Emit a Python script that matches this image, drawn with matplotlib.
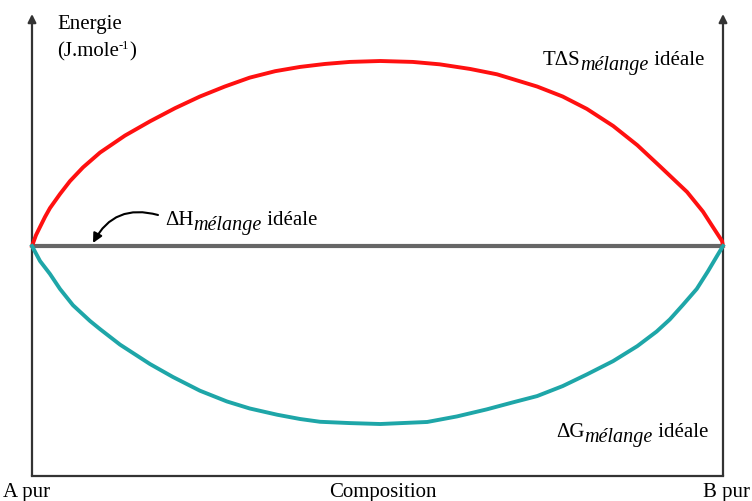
# Ideal mixing: T.dS, dH and dG of mixing versus composition
import matplotlib.pyplot as plt

plt.rcParams['font.family'] = ['Liberation Serif', 'DejaVu Serif']

# composition (0 = A pur, 1 = B pur) and energies (arbitrary units)
x_tds = [0.0, 0.0058, 0.0116, 0.0188, 0.026, 0.0405, 0.055, 0.0738, 0.0984, 0.1346,
         0.1708, 0.207, 0.243, 0.279, 0.315, 0.352, 0.388, 0.424, 0.460, 0.504,
         0.551, 0.590, 0.634, 0.673, 0.731, 0.768, 0.803, 0.841, 0.876, 0.909,
         0.948, 0.971, 0.985, 0.9986, 1.0]
tds = [0.0, 0.059, 0.103, 0.157, 0.205, 0.281, 0.351, 0.425, 0.505, 0.597,
       0.674, 0.745, 0.808, 0.862, 0.910, 0.945, 0.968, 0.984, 0.995, 1.0,
       0.995, 0.982, 0.957, 0.928, 0.862, 0.808, 0.741, 0.649, 0.545, 0.430,
       0.292, 0.186, 0.105, 0.027, 0.0]

x_dg = [0.0, 0.0116, 0.026, 0.0405, 0.0593, 0.0839, 0.0984, 0.1274, 0.1708, 0.204,
        0.243, 0.282, 0.315, 0.355, 0.388, 0.417, 0.460, 0.504, 0.572, 0.615,
        0.658, 0.696, 0.731, 0.768, 0.803, 0.841, 0.876, 0.904, 0.923, 0.942,
        0.962, 0.978, 0.991, 1.0]
dg = [0.0, -0.081, -0.151, -0.232, -0.320, -0.405, -0.449, -0.533, -0.638, -0.708,
      -0.782, -0.840, -0.878, -0.912, -0.935, -0.950, -0.957, -0.962, -0.951, -0.921,
      -0.883, -0.845, -0.811, -0.757, -0.694, -0.622, -0.541, -0.462, -0.397, -0.318,
      -0.232, -0.138, -0.056, 0.0]

x_dh = [0.0, 1.0]
dh = [0.0, 0.0]

W, H = 752, 502
fig = plt.figure(figsize=(W / 100, H / 100), dpi=100)
ax = fig.add_axes([32 / W, 1 - 477 / H, (723 - 32) / W, (477 - 15) / H])
ax.set_xlim(0, 1)
ax.set_ylim(-1.243, 1.254)
ax.axis('off')

axis_col = '#333333'
# frame: two vertical axes with arrows, bottom composition axis
for xv in (0, 1):
    ax.annotate('', xy=(xv, 1.254), xytext=(xv, -1.243),
                arrowprops=dict(arrowstyle='-|>', color=axis_col, lw=1.6,
                                mutation_scale=12, shrinkA=0, shrinkB=0),
                annotation_clip=False)
ax.plot([0, 1], [-1.243, -1.243], color=axis_col, lw=1.6, clip_on=False)

ax.plot(x_dh, dh, color='#666666', lw=3.0, solid_capstyle='butt', zorder=2)
ax.plot(x_tds, tds, color='#ff1010', lw=2.8, zorder=3, clip_on=False)
ax.plot(x_dg, dg, color='#1ea6a8', lw=2.8, zorder=3, clip_on=False)

renderer = fig.canvas.get_renderer()


def pieces(px, py, parts, ha='left'):
    """Draw a label made of runs (text, size, style, lift in px) one after another."""
    widths = []
    for s, size, style, dy in parts:
        t = fig.text(0, 0, s, fontsize=size, style=style)
        widths.append(t.get_window_extent(renderer).width)
        t.remove()
    x = px - sum(widths) if ha == 'right' else px
    for (s, size, style, dy), w in zip(parts, widths):
        fig.text(x / W, 1 - (py - dy) / H, s, fontsize=size, style=style,
                 va='baseline')
        x += w


def ftext(px, py, s, **kw):
    fig.text(px / W, 1 - py / H, s, fontsize=15, va='baseline', **kw)


ftext(57, 29, 'Energie')
pieces(57, 56, [('(J.mole', 15, 'normal', 0), ('-1', 9, 'normal', 7),
                (')', 15, 'normal', 0)])
pieces(704, 65, [('TΔS', 15, 'normal', 0), ('mélange', 14.5, 'italic', -5),
                 (' idéale', 15, 'normal', 0)], ha='right')
pieces(165, 225, [('ΔH', 15, 'normal', 0), ('mélange', 14.5, 'italic', -5),
                  (' idéale', 15, 'normal', 0)])
pieces(708, 437, [('ΔG', 15, 'normal', 0), ('mélange', 14.5, 'italic', -5),
                  (' idéale', 15, 'normal', 0)], ha='right')
ftext(3, 497, 'A pur')
ftext(383, 497, 'Composition', ha='center')
ftext(750, 497, 'B pur', ha='right')

# curved pointer towards the dH line
ax.annotate('', xy=(93 / W, 1 - 244 / H), xytext=(158 / W, 1 - 216 / H),
            xycoords='figure fraction', textcoords='figure fraction',
            arrowprops=dict(arrowstyle='-|>', color='black', lw=1.5,
                            connectionstyle='arc3,rad=0.4', mutation_scale=14,
                            shrinkA=0, shrinkB=0))

fig.savefig('out.png', dpi=100)
